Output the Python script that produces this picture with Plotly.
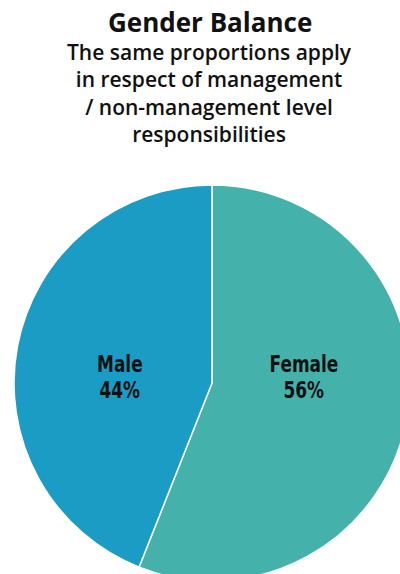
import plotly.graph_objects as go

# Gender split
labels = ["Female", "Male"]
values = [56, 44]
colors = ["#45b1ab", "#1a9cc4"]

title_text = "Gender Balance"
subtitle_lines = [
    "The same proportions apply",
    "in respect of management",
    "/ non-management level",
    "responsibilities",
]

# Canvas is slightly larger than the viewport so the pie runs off the right and bottom edges
W, H = 424, 600
cx, cy, r = 212, 383, 198

fig = go.Figure(
    go.Pie(
        labels=labels,
        values=values,
        sort=False,
        direction="clockwise",
        rotation=0,
        marker=dict(colors=colors, line=dict(color="white", width=1.5)),
        textinfo="none",
        hoverinfo="label+percent",
        showlegend=False,
        domain=dict(
            x=[(cx - r) / W, (cx + r) / W],
            y=[(H - cy - r) / H, (H - cy + r) / H],
        ),
    )
)

def px(x):
    return x / W

def py(y):
    return 1 - y / H

annotations = [
    dict(
        text=f"<b>{title_text}</b>",
        x=px(210), y=py(21.5), xref="paper", yref="paper",
        xanchor="center", yanchor="middle", showarrow=False,
        font=dict(family="Open Sans", size=26, color="#111111"),
    ),
    dict(
        text="<br>".join(subtitle_lines),
        x=px(209), y=py(93.5), xref="paper", yref="paper",
        xanchor="center", yanchor="middle", showarrow=False,
        font=dict(family="Open Sans", size=21, color="#111111", weight=600),
    ),
]

# Slice labels: name on one line, percentage below
label_font = dict(family="DejaVu Sans Condensed, sans-serif", size=23, color="#111111", weight=700)
label_x = {"Female": 304, "Male": 120}
for lab, val in zip(labels, values):
    x = label_x[lab]
    for text, y in ((lab, 364), (f"{val}%", 390)):
        annotations.append(
            dict(
                text=text,
                x=px(x), y=py(y), xref="paper", yref="paper",
                xanchor="center", yanchor="middle", showarrow=False,
                font=label_font,
                name="slice-label",
            )
        )

fig.update_layout(
    width=W,
    height=H,
    margin=dict(l=0, r=0, t=0, b=0),
    paper_bgcolor="white",
    plot_bgcolor="white",
    annotations=annotations,
)

# Narrow the slice labels horizontally to a condensed look
post_js = """
document.body.style.margin='0';
document.body.style.overflow='hidden';
var gd = document.getElementById('{plot_id}');
var anns = gd.querySelectorAll('g.annotation');
anns.forEach(function(g){
  var idx = parseInt(g.getAttribute('data-index'));
  if (idx >= 2) {
    var t = g.querySelector('text.annotation-text');
    if (t) {
      t.style.transformBox = 'fill-box';
      t.style.transformOrigin = 'center';
      t.style.transform = 'scaleX(0.82)';
    }
  }
});
"""

fig.write_html(
    "out.html",
    config={"displayModeBar": False},
    post_script=post_js,
)
